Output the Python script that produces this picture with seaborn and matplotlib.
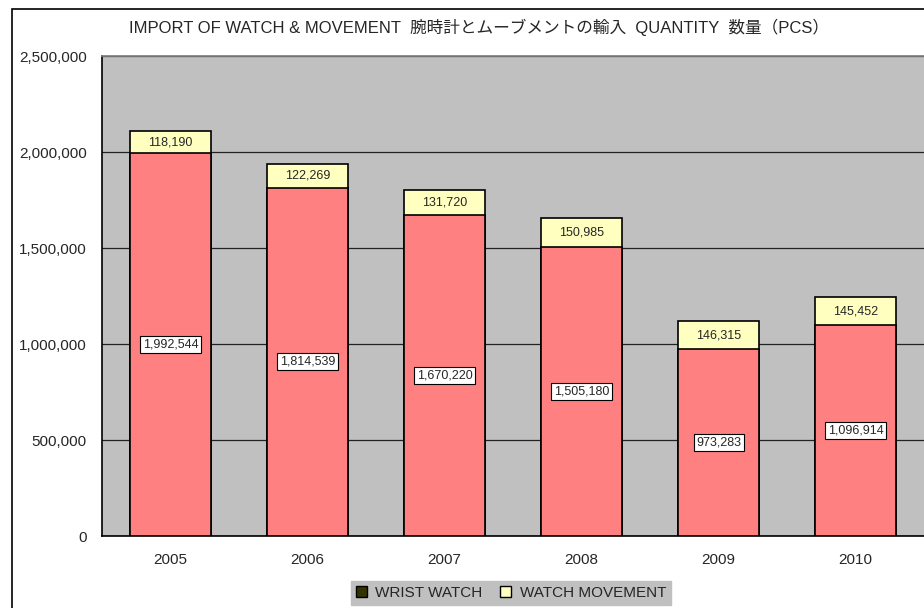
import matplotlib
matplotlib.use("Agg")
import matplotlib.pyplot as plt
import matplotlib.patches as mpatches
import pandas as pd
import seaborn as sns

# data
years = ["2005", "2006", "2007", "2008", "2009", "2010"]
wrist_watch = [1992544, 1814539, 1670220, 1505180, 973283, 1096914]
watch_movement = [118190, 122269, 131720, 150985, 146315, 145452]
y_ticks = [0, 500000, 1000000, 1500000, 2000000, 2500000]

df = pd.DataFrame({"Year": years, "Wrist": wrist_watch, "Movement": watch_movement})
df["Total"] = df["Wrist"] + df["Movement"]

sns.set_theme(style="white")
plt.rcParams["font.family"] = ["Liberation Sans", "Noto Sans CJK JP", "DejaVu Sans"]

fig = plt.figure(figsize=(9.24, 6.08), dpi=100)
ax = fig.add_axes([102 / 924, 72 / 608, 822 / 924, 480 / 608])
ax.set_facecolor("#C0C0C0")

# stacked bars: total first (yellow), wrist watch on top from zero (salmon)
sns.barplot(data=df, x="Year", y="Total", color="#FFFFC0", saturation=1,
            width=0.59, edgecolor="black", linewidth=1.2, ax=ax, zorder=3)
sns.barplot(data=df, x="Year", y="Wrist", color="#FF8080", saturation=1,
            width=0.59, edgecolor="black", linewidth=1.2, ax=ax, zorder=4)

ax.set_ylim(0, 2500000)
ax.set_xlim(-0.5, 5.5)
ax.set_yticks(y_ticks)
ax.set_yticklabels([f"{v:,}" for v in y_ticks], fontsize=11)
ax.set_xticks(range(len(years)))
ax.set_xticklabels(years, fontsize=11)
ax.set_xlabel("")
ax.set_ylabel("")
ax.grid(axis="y", color="#222222", linewidth=0.9, zorder=1)
ax.set_axisbelow(True)
ax.tick_params(axis="y", direction="out", length=5, width=1, color="black", pad=6)
ax.tick_params(axis="x", length=0, pad=12)
for side in ["left", "bottom"]:
    ax.spines[side].set_color("black")
    ax.spines[side].set_linewidth(1.2)
ax.spines["top"].set_color("#808080")
ax.spines["right"].set_visible(False)

# value labels
for i, row in df.iterrows():
    ax.text(i, row["Wrist"] / 2, f"{row['Wrist']:,}", ha="center", va="center",
            fontsize=9, zorder=6,
            bbox=dict(boxstyle="square,pad=0.2", facecolor="white", edgecolor="black",
                      linewidth=0.8))
    ax.text(i, row["Wrist"] + row["Movement"] / 2, f"{row['Movement']:,}",
            ha="center", va="center", fontsize=9, zorder=6)

fig.text(479 / 924, 1 - 27 / 608,
         "IMPORT OF WATCH & MOVEMENT  腕時計とムーブメントの輸入  QUANTITY  数量（PCS）",
         ha="center", va="center", fontsize=12)

handles = [
    mpatches.Patch(facecolor="#333300", edgecolor="black", label="WRIST WATCH"),
    mpatches.Patch(facecolor="#FFFFC0", edgecolor="black", label="WATCH MOVEMENT"),
]
leg = fig.legend(handles=handles, loc="center", bbox_to_anchor=(511 / 924, 1 - 593 / 608),
                 ncol=2, frameon=True, fontsize=11, handlelength=0.72, handleheight=0.72,
                 handletextpad=0.55, columnspacing=1.15, borderpad=0.3, fancybox=False)
leg.get_frame().set_facecolor("#C0C0C0")
leg.get_frame().set_edgecolor("#C0C0C0")
leg.get_frame().set_alpha(1)

# outer chart frame (runs off the right and bottom edges)
fig.patches.append(mpatches.Rectangle((12 / 924, -0.1), 1.0, 1.1 - 9 / 608,
                                      transform=fig.transFigure, fill=False,
                                      edgecolor="black", linewidth=1.2))

fig.savefig("out.png", dpi=100)
